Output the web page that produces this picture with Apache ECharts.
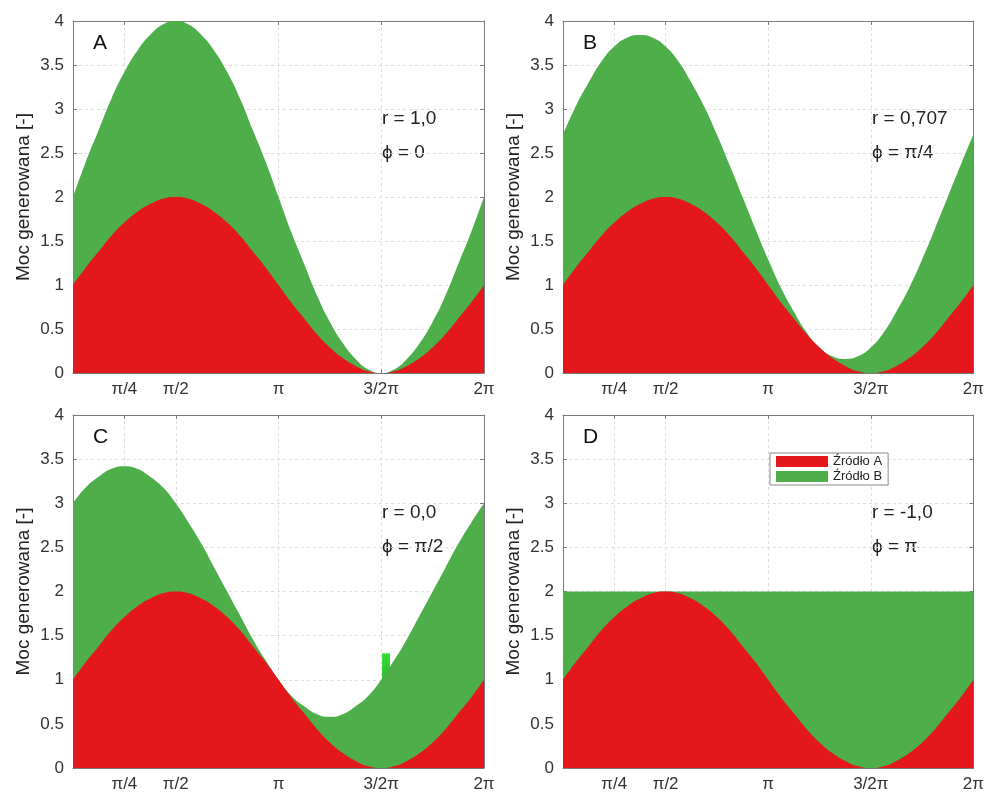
<!DOCTYPE html>
<html>
<head>
<meta charset="utf-8">
<script src="https://cdn.jsdelivr.net/npm/echarts@6/dist/echarts.min.js"></script>
<style>
html,body{margin:0;padding:0;background:#fff;}
#chart{width:987px;height:798px;}
</style>
</head>
<body>
<div id="chart"></div>
<script>
// x positions (radians), 0 .. 2π in steps of π/16
const xs = [0, 0.1963, 0.3927, 0.5890, 0.7854, 0.9817, 1.1781, 1.3744, 1.5708, 1.7671, 1.9635, 2.1598,
            2.3562, 2.5525, 2.7489, 2.9452, 3.1416, 3.3379, 3.5343, 3.7306, 3.9270, 4.1233, 4.3197, 4.5160,
            4.7124, 4.9087, 5.1051, 5.3014, 5.4978, 5.6941, 5.8905, 6.0868, 6.2832];
// Źródło A (same in every panel)
const sourceA = [1.00, 1.20, 1.38, 1.56, 1.71, 1.83, 1.92, 1.98, 2.00, 1.98, 1.92, 1.83, 1.71, 1.56, 1.38, 1.20,
                 1.00, 0.80, 0.62, 0.44, 0.29, 0.17, 0.08, 0.02, 0.00, 0.02, 0.08, 0.17, 0.29, 0.44, 0.62, 0.80, 1.00];
// Źródło B per panel
const sourceB_A = [1.00, 1.20, 1.38, 1.56, 1.71, 1.83, 1.92, 1.98, 2.00, 1.98, 1.92, 1.83, 1.71, 1.56, 1.38, 1.20,
                   1.00, 0.80, 0.62, 0.44, 0.29, 0.17, 0.08, 0.02, 0.00, 0.02, 0.08, 0.17, 0.29, 0.44, 0.62, 0.80, 1.00];
const sourceB_B = [1.71, 1.83, 1.92, 1.98, 2.00, 1.98, 1.92, 1.83, 1.71, 1.56, 1.38, 1.20, 1.00, 0.80, 0.62, 0.44,
                   0.29, 0.17, 0.08, 0.02, 0.00, 0.02, 0.08, 0.17, 0.29, 0.44, 0.62, 0.80, 1.00, 1.20, 1.38, 1.56, 1.71];
const sourceB_C = [2.00, 1.98, 1.92, 1.83, 1.71, 1.56, 1.38, 1.20, 1.00, 0.80, 0.62, 0.44, 0.29, 0.17, 0.08, 0.02,
                   0.00, 0.02, 0.08, 0.17, 0.29, 0.44, 0.62, 0.80, 1.00, 1.20, 1.38, 1.56, 1.71, 1.83, 1.92, 1.98, 2.00];
const sourceB_D = [1.00, 0.80, 0.62, 0.44, 0.29, 0.17, 0.08, 0.02, 0.00, 0.02, 0.08, 0.17, 0.29, 0.44, 0.62, 0.80,
                   1.00, 1.20, 1.38, 1.56, 1.71, 1.83, 1.92, 1.98, 2.00, 1.98, 1.92, 1.83, 1.71, 1.56, 1.38, 1.20, 1.00];
// tick labels
const xTickValues = [0.7854, 1.5708, 3.1416, 4.7124, 6.2832];
const xTickLabels = ['π/4', 'π/2', 'π', '3/2π', '2π'];
const panelLetters = ['A', 'B', 'C', 'D'];
const rTexts = ['r = 1,0', 'r = 0,707', 'r = 0,0', 'r = -1,0'];
const phiTexts = ['ϕ = 0', 'ϕ = π/4', 'ϕ = π/2', 'ϕ = π'];
const seriesNames = ['Źródło A', 'Źródło B'];
// small bright-green artefact in panel C: [x0, y0, x1, y1]
const artefactC = [4.725, 0.97, 4.845, 1.3];

const RED = '#e3171c', GREEN = '#4dae4a';
const bList = [sourceB_A, sourceB_B, sourceB_C, sourceB_D];
const grids = [
  {left: 73, top: 21, width: 411, height: 352},
  {left: 563, top: 21, width: 411, height: 352},
  {left: 73, top: 415, width: 411, height: 353},
  {left: 563, top: 415, width: 411, height: 353}
];
const AX = '#7a7a7a', TXT = '#333';
const font = 'Liberation Sans, Arial, sans-serif';

function fmtX(v) {
  let best = 0, d = 1e9;
  xTickValues.forEach((t, i) => { if (Math.abs(t - v) < d) { d = Math.abs(t - v); best = i; } });
  return d < 0.01 ? xTickLabels[best] : '';
}

const xAxes = [], yAxes = [], series = [], graphics = [];
grids.forEach((g, i) => {
  xAxes.push({
    type: 'value', gridIndex: i, min: 0, max: 6.2832, position: 'bottom',
    axisLine: {show: true, onZero: false, lineStyle: {color: AX}},
    axisTick: {show: true, inside: true, length: 4, customValues: xTickValues, lineStyle: {color: AX}},
    axisLabel: {show: true, customValues: xTickValues, formatter: fmtX, color: TXT, fontSize: 17, fontFamily: font, margin: 8},
    splitLine: {show: true, lineStyle: {color: '#dcdcdc', type: [3, 3]}}
  });
  xAxes.push({
    type: 'value', gridIndex: i, min: 0, max: 6.2832, position: 'top',
    axisLine: {show: true, onZero: false, lineStyle: {color: AX}},
    axisTick: {show: true, inside: true, length: 4, customValues: xTickValues, lineStyle: {color: AX}},
    axisLabel: {show: false, customValues: xTickValues},
    splitLine: {show: false}
  });
  yAxes.push({
    type: 'value', gridIndex: i, min: 0, max: 4, interval: 0.5, position: 'left',
    name: 'Moc generowana [-]', nameLocation: 'middle', nameGap: 40,
    nameTextStyle: {color: '#222', fontSize: 19, fontFamily: font},
    axisLine: {show: true, onZero: false, lineStyle: {color: AX}},
    axisTick: {show: true, inside: true, length: 4, lineStyle: {color: AX}},
    axisLabel: {color: TXT, fontSize: 17, fontFamily: font, margin: 9},
    splitLine: {show: true, lineStyle: {color: '#dcdcdc', type: [3, 3]}}
  });
  yAxes.push({
    type: 'value', gridIndex: i, min: 0, max: 4, interval: 0.5, position: 'right',
    axisLine: {show: true, onZero: false, lineStyle: {color: AX}},
    axisTick: {show: true, inside: true, length: 4, lineStyle: {color: AX}},
    axisLabel: {show: false},
    splitLine: {show: false}
  });
  // red area: Źródło A; green area: Źródło B stacked on top (total A+B drawn behind A)
  const aData = xs.map((x, k) => [x, sourceA[k]]);
  const totData = xs.map((x, k) => [x, +(sourceA[k] + bList[i][k]).toFixed(3)]);
  const bs = {
    name: seriesNames[1], type: 'line', xAxisIndex: 2 * i, yAxisIndex: 2 * i,
    data: totData, smooth: 0.5, symbol: 'none', lineStyle: {width: 0}, color: GREEN,
    areaStyle: {color: GREEN, opacity: 1}, z: 2
  };
  if (i === 2) {
    bs.markArea = {
      silent: true,
      itemStyle: {
        opacity: 1,
        color: {type: 'linear', x: 0, y: 0, x2: 0, y2: 1,
                colorStops: [{offset: 0, color: '#33dd33'}, {offset: 1, color: '#28b828'}]}
      },
      data: [[{coord: [artefactC[0], artefactC[1]]}, {coord: [artefactC[2], artefactC[3]]}]]
    };
  }
  series.push(bs);
  series.push({
    name: seriesNames[0], type: 'line', xAxisIndex: 2 * i, yAxisIndex: 2 * i,
    data: aData, smooth: 0.5, symbol: 'none', lineStyle: {width: 0}, color: RED,
    areaStyle: {color: RED, opacity: 1}, z: 3
  });
  graphics.push({
    type: 'text', left: g.left + 20, top: g.top + 12,
    style: {text: panelLetters[i], fontSize: 21, fontFamily: font, fill: '#111'}
  });
  graphics.push({
    type: 'text', left: g.left + 309, top: g.top + 88,
    style: {text: rTexts[i], fontSize: 19, fontFamily: font, fill: '#222'}
  });
  graphics.push({
    type: 'text', left: g.left + 309, top: g.top + 122,
    style: {text: phiTexts[i], fontSize: 19, fontFamily: font, fill: '#222'}
  });
});

const chart = echarts.init(document.getElementById('chart'), null, {renderer: 'canvas'});
chart.setOption({
  animation: false,
  backgroundColor: '#fff',
  grid: grids.map(g => Object.assign({containLabel: false}, g)),
  xAxis: xAxes,
  yAxis: yAxes,
  series: series,
  legend: {
    show: true, data: seriesNames, orient: 'vertical', left: 770, top: 453,
    icon: 'rect', itemWidth: 52, itemHeight: 11, itemGap: 2,
    backgroundColor: '#fff', borderColor: '#888', borderWidth: 1, padding: [2, 6, 2, 6],
    textStyle: {fontSize: 13, lineHeight: 13, color: '#222', fontFamily: font}
  },
  graphic: graphics
});
</script>
</body>
</html>
